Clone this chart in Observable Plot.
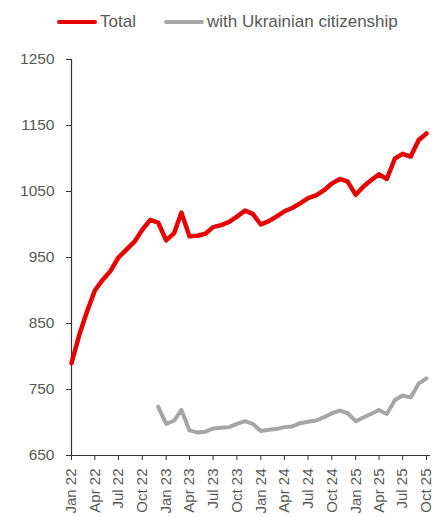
<!DOCTYPE html>
<html>
<head>
<meta charset="utf-8">
<script src="https://cdn.jsdelivr.net/npm/d3@7"></script>
<script src="https://cdn.jsdelivr.net/npm/@observablehq/plot@0.6"></script>
<style>
  html, body { margin: 0; padding: 0; background: #fff; }
  body { width: 438px; font-family: "Liberation Sans", Arial, sans-serif; }
  #legend { height: 40px; box-sizing: border-box; padding-top: 4px; padding-left: 57px; display: flex; align-items: center; color: #595959; font-size: 17px; }
  .item { display: flex; align-items: center; }
  .sw { width: 40px; height: 4px; border-radius: 2px; margin-right: 3px; }
</style>
</head>
<body>
<div id="legend">
  <div class="item"><div class="sw" style="background:#e60000"></div><span>Total</span></div>
  <div class="item" style="margin-left:28px"><div class="sw" style="background:#a6a6a6"></div><span>with Ukrainian citizenship</span></div>
</div>
<div id="chart"></div>
<script>
// Monthly data, Jan 2022 .. Oct 2025
const startMonth = "2022-01";
const totalValues = [
  790, 834, 867, 900, 916, 930, 950, 962, 974, 992, 1007, 1003,
  976, 987, 1018, 982, 983, 986, 996, 999, 1004, 1012, 1021, 1016,
  1000, 1005, 1012, 1020, 1025, 1032, 1040, 1044, 1052, 1062, 1069, 1065,
  1045, 1058, 1067, 1076, 1069, 1100, 1107, 1103, 1128, 1138
];
const ukrValues = [
  null, null, null, null, null, null, null, null, null, null, null, 724,
  698, 703, 719, 688, 685, 686, 691, 692, 693, 698, 702, 698,
  687, 689, 690, 693, 694, 699, 701, 703, 708, 714, 718, 714,
  702, 708, 713, 719, 713, 734, 741, 738, 759, 767
];
const xTickLabels = ["Jan 22","Apr 22","Jul 22","Oct 22","Jan 23","Apr 23","Jul 23","Oct 23",
                     "Jan 24","Apr 24","Jul 24","Oct 24","Jan 25","Apr 25","Jul 25","Oct 25"];
const yTicks = [650, 750, 850, 950, 1050, 1150, 1250];

const start = d3.utcParse("%Y-%m")(startMonth);
const months = totalValues.map((_, i) => d3.utcMonth.offset(start, i));
const totalData = months.map((d, i) => ({date: d, value: totalValues[i]}));
const ukrData = months.map((d, i) => ({date: d, value: ukrValues[i]})).filter(d => d.value != null);
const parseTick = d3.utcParse("%b %y");
const xTicks = xTickLabels.map(parseTick);

const chart = Plot.plot({
  width: 438,
  height: 477,
  marginLeft: 71,
  marginRight: 8,
  marginTop: 19,
  marginBottom: 62,
  style: {fontFamily: "'Liberation Sans', Arial, sans-serif", fontSize: "15px", background: "#fff"},
  x: {type: "utc", domain: [months[0], months[months.length - 1]], range: [71, 426]},
  y: {domain: [650, 1250]},
  marks: [
    Plot.axisY({ticks: yTicks, tickFormat: d => String(d), tickSize: 5, tickPadding: 12, label: null, stroke: "#333", fill: "#595959", fontSize: 15.5}),
    Plot.axisX({ticks: xTicks, tickFormat: d3.utcFormat("%b %y"), tickRotate: -90, tickSize: 5, tickPadding: 8, label: null, stroke: "#333", fill: "#595959", fontSize: 15}),
    Plot.ruleY([650], {stroke: "#333", strokeWidth: 1.2}),
    Plot.ruleX([months[0]], {stroke: "#333", strokeWidth: 1.2}),
    Plot.line(ukrData, {x: "date", y: "value", stroke: "#a6a6a6", strokeWidth: 4, strokeLinejoin: "round"}),
    Plot.line(totalData, {x: "date", y: "value", stroke: "#e60000", strokeWidth: 4.5, strokeLinejoin: "round"})
  ]
});
document.getElementById("chart").appendChild(chart);
</script>
</body>
</html>
